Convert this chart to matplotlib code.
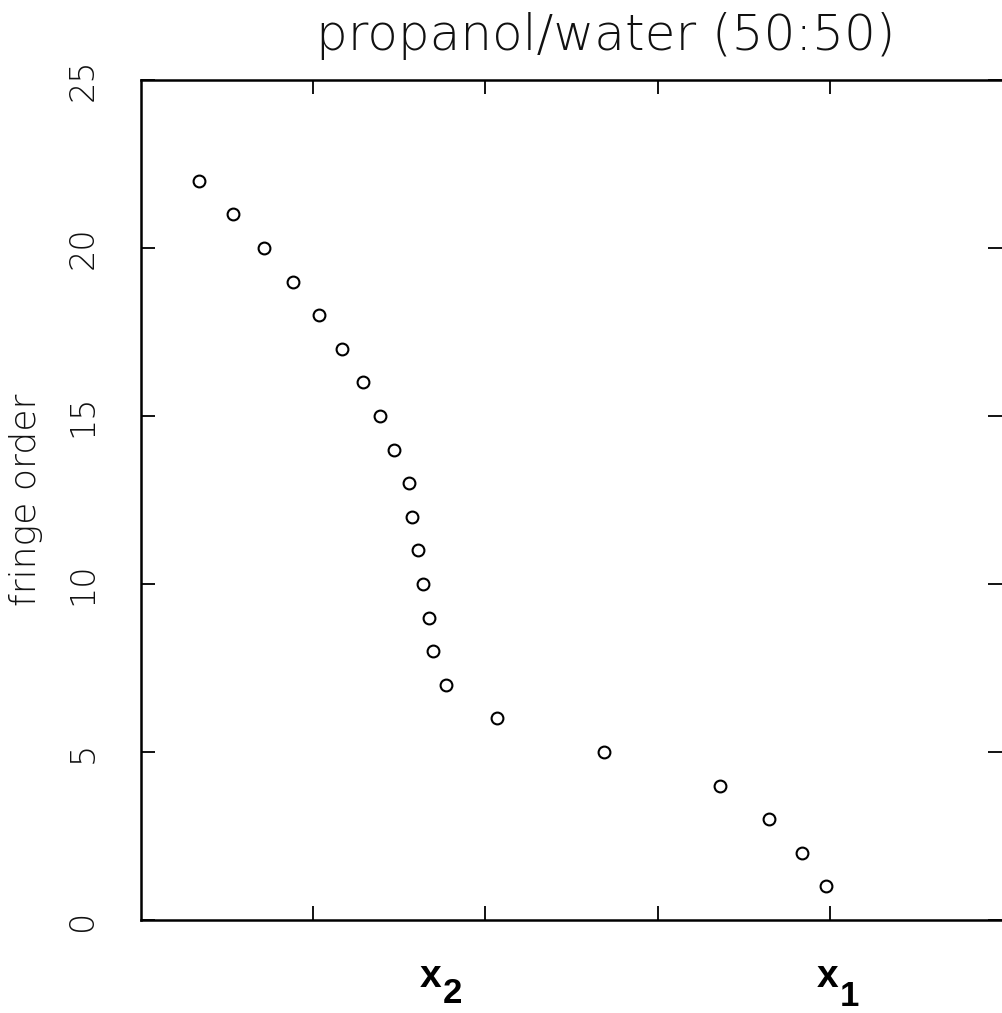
import matplotlib
matplotlib.use("Agg")
import matplotlib.pyplot as plt

# data
fringe_order = [22, 21, 20, 19, 18, 17, 16, 15, 14, 13, 12, 11, 10, 9, 8, 7, 6, 5, 4, 3, 2, 1]
position = [0.337, 0.533, 0.715, 0.884, 1.035, 1.169, 1.291, 1.390, 1.471, 1.558,
            1.574, 1.610, 1.640, 1.674, 1.698, 1.773, 2.070, 2.686, 3.360, 3.645,
            3.837, 3.977]
y_ticks = [0, 5, 10, 15, 20, 25]
x_ticks = [1, 2, 3, 4]
title = "propanol/water (50:50)"
ylabel = "fringe order"

W, H = 1002, 1013
fig = plt.figure(figsize=(W / 100, H / 100), dpi=100)
ax = fig.add_axes([141 / W, (H - 920) / H, 861 / W, 840 / H])

thin = dict(family=["DejaVu Sans"], fontweight="light", color="#111111")

ax.plot(position, fringe_order, linestyle="none", marker="o", ms=8.5,
        mfc="none", mec="black", mew=1.5)

ax.set_xlim(0, 5)
ax.set_ylim(0, 25)
ax.set_xticks(x_ticks)
ax.set_xticklabels([])
ax.set_yticks(y_ticks)
ax.set_yticklabels([str(v) for v in y_ticks], rotation=90, va="center",
                   fontsize=24, **thin)
ax.tick_params(axis="both", direction="in", length=10, width=1.3,
               top=True, right=True, bottom=True, left=True)
ax.tick_params(axis="y", pad=30)
for s in ["left", "bottom", "top"]:
    ax.spines[s].set_linewidth(1.8)
ax.spines["right"].set_visible(False)

fig.text(26 / W, 1 - 500 / H, ylabel, rotation=90, ha="center", va="center",
         fontsize=26, **thin)
fig.text(0.604, 1 - 36 / H, title, ha="center", va="center", fontsize=36, **thin)

bold = dict(family=["Liberation Sans", "DejaVu Sans"], fontweight="bold")
fig.text(431 / W, 1 - 977 / H, "x", ha="center", va="center", fontsize=28, **bold)
fig.text(452 / W, 1 - 993 / H, "2", ha="center", va="center", fontsize=25, **bold)
fig.text(828 / W, 1 - 977 / H, "x", ha="center", va="center", fontsize=28, **bold)
fig.text(849 / W, 1 - 996 / H, "1", ha="center", va="center", fontsize=25, **bold)

fig.savefig("out.png", dpi=100)
